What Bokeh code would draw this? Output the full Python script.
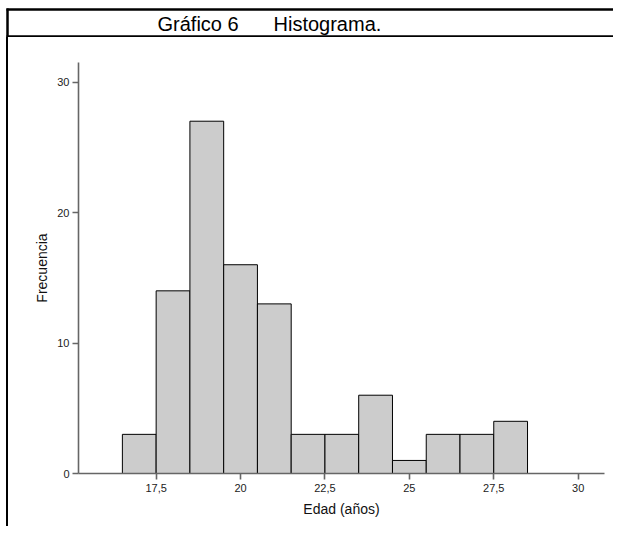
from bokeh.plotting import figure
from bokeh.models import FixedTicker, Range1d, Div, Spacer
from bokeh.layouts import column, row
from bokeh.core.properties import value
from bokeh.embed import file_html
from bokeh.resources import INLINE

# data
bin_edges = [16.5, 17.5, 18.5, 19.5, 20.5, 21.5, 22.5, 23.5, 24.5, 25.5, 26.5, 27.5, 28.5]
counts = [3, 14, 27, 16, 13, 3, 3, 6, 1, 3, 3, 4]
x_ticks = [17.5, 20, 22.5, 25, 27.5, 30]
x_tick_labels = ["17,5", "20", "22,5", "25", "27,5", "30"]
y_ticks = [0, 10, 20, 30]
title_parts = ["Gráfico 6", "Histograma."]
x_label = "Edad (años)"
y_label = "Frecuencia"

font = "Liberation Sans"
W = 613
TH = 37          # title band figure height
MH = 489         # main figure height
SW = 8           # left strip width


def bare(fig):
    fig.xaxis.visible = False
    fig.yaxis.visible = False
    fig.xgrid.visible = False
    fig.ygrid.visible = False
    fig.outline_line_color = None
    fig.background_fill_color = "white"
    fig.border_fill_color = "white"


# ---- title band (pixel coordinates) ----
t = figure(width=W, height=TH, x_range=Range1d(0, W), y_range=Range1d(TH, 0),
           output_backend="svg", toolbar_location=None, min_border=0)
bare(t)
t.segment(x0=[6, 6], y0=[9, 36], x1=[W, W], y1=[9, 36], line_color="black", line_width=2.5)
t.segment(x0=[7], y0=[8], x1=[7], y1=[TH], line_color="black", line_width=2.5)
t.text(x=[157], y=[23], text=[title_parts[0]], text_font=value(font), text_font_size="20px",
       text_align="left", text_baseline="middle", text_color="black")
t.text(x=[273], y=[23], text=[title_parts[1]], text_font=value(font), text_font_size="20px",
       text_align="left", text_baseline="middle", text_color="black")

# ---- left border line below the title band ----
gap = Spacer(width=6, height=MH, margin=0)
strip = Div(text="", width=2, height=MH, margin=0, styles={"background-color": "black"})

# ---- main histogram ----
PW = W - SW
FL, FR, FT, FB = 70, 596, 25, 436
p = figure(width=PW, height=MH, x_range=(15.2, 30.78), y_range=(0, 31.5),
           output_backend="svg", toolbar_location=None,
           min_border_left=FL, min_border_right=PW - FR,
           min_border_top=FT, min_border_bottom=MH - FB)
p.xgrid.visible = False
p.ygrid.visible = False
p.outline_line_color = None
p.background_fill_color = "white"
p.border_fill_color = "white"

p.quad(left=bin_edges[:-1], right=bin_edges[1:], bottom=0, top=counts,
       fill_color="#cccccc", line_color="black", line_width=1)

for ax in (p.xaxis[0], p.yaxis[0]):
    ax.axis_line_color = "#666666"
    ax.axis_line_width = 1.6
    ax.major_tick_line_color = "#666666"
    ax.major_tick_line_width = 1.6
    ax.minor_tick_line_color = None
    ax.major_label_text_font = font
    ax.major_label_text_font_size = "11px"
    ax.major_label_text_color = "#222222"
    ax.axis_label_text_font = font
    ax.axis_label_text_font_size = "14px"
    ax.axis_label_text_font_style = "normal"
    ax.axis_label_text_color = "#111111"

p.xaxis[0].ticker = FixedTicker(ticks=x_ticks)
p.xaxis[0].major_label_overrides = {tk: lb for tk, lb in zip(x_ticks, x_tick_labels)}
p.xaxis[0].major_tick_out = 6
p.xaxis[0].major_tick_in = 0
p.xaxis[0].major_label_standoff = 4
p.xaxis[0].axis_label = x_label
p.xaxis[0].axis_label_standoff = 6

p.yaxis[0].ticker = FixedTicker(ticks=y_ticks)
p.yaxis[0].major_tick_out = 6
p.yaxis[0].major_tick_in = 0
p.yaxis[0].major_label_standoff = 3
p.yaxis[0].axis_label = y_label
p.yaxis[0].axis_label_standoff = 4

layout = column(t, row(gap, strip, p))
open("out.html", "w").write(file_html(layout, INLINE))
